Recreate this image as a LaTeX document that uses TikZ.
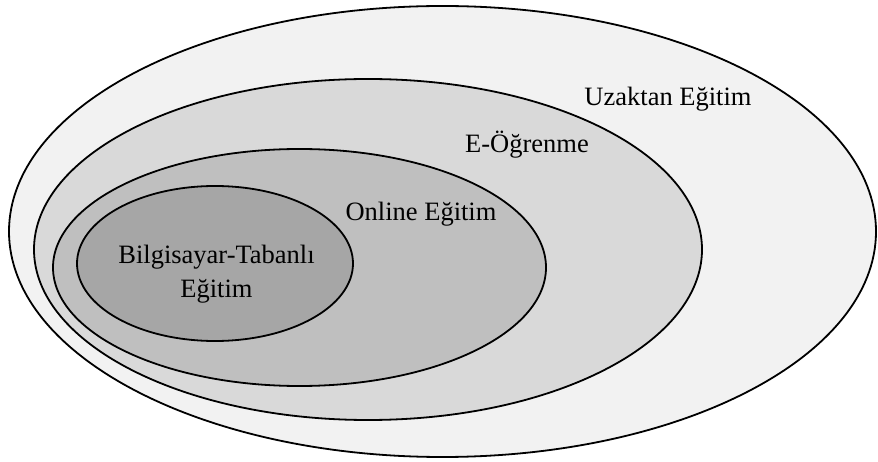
\documentclass[tikz,border=0pt]{standalone}
\usepackage{fontspec}
\setmainfont{Liberation Serif}
\usetikzlibrary{shapes.geometric}

\definecolor{grayA}{HTML}{F2F2F2}
\definecolor{grayB}{HTML}{D9D9D9}
\definecolor{grayC}{HTML}{BFBFBF}
\definecolor{grayD}{HTML}{A6A6A6}

\tikzset{
  zone/.style={draw=black, line width=1.8pt, ellipse, inner sep=0pt, outer sep=0pt},
  zonelabel/.style={anchor=base, inner sep=0pt, align=center,
    font=\fontsize{26.5}{34}\selectfont}
}

\begin{document}
\begin{tikzpicture}[x=1pt,y=-1pt]
	\useasboundingbox (0,0) rectangle (878,462);
	\node[zone, fill=grayA, minimum width=867pt, minimum height=451pt](uzaktan) at (442.5,231.5){};
	\node[zone, fill=grayB, minimum width=668pt, minimum height=341pt](eogrenme) at (368,249.5){};
	\node[zone, fill=grayC, minimum width=493pt, minimum height=237pt](online) at (299.5,267.5){};
	\node[zone, fill=grayD, minimum width=276pt, minimum height=155pt](bilgisayar) at (215,263.5){};
	\node[zonelabel](uzaktantext) at (668,106){Uzaktan Eğitim};
	\node[zonelabel](eogrenmetext) at (527,153){E-Öğrenme};
	\node[zonelabel](onlinetext) at (421,221){Online Eğitim};
	\node[zonelabel](bilgisayartext) at (216.5,298){Bilgisayar-Tabanlı\\Eğitim};
\end{tikzpicture}
\end{document}
